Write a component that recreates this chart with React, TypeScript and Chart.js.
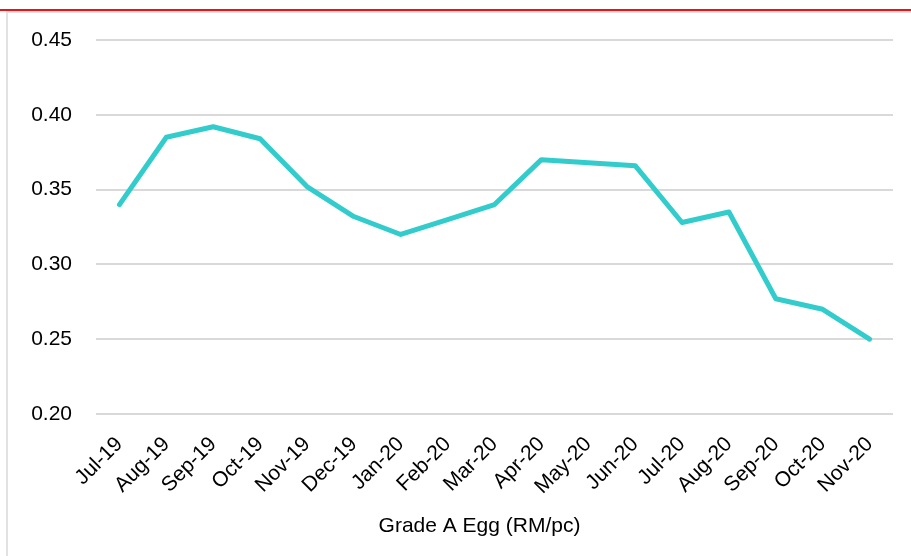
import React, { useEffect, useRef } from "react";
import { Chart, registerables } from "chart.js";

Chart.register(...registerables);

const categories = [
  "Jul-19", "Aug-19", "Sep-19", "Oct-19", "Nov-19", "Dec-19", "Jan-20", "Feb-20", "Mar-20",
  "Apr-20", "May-20", "Jun-20", "Jul-20", "Aug-20", "Sep-20", "Oct-20", "Nov-20",
];
const eggPrices = [
  0.34, 0.385, 0.392, 0.384, 0.352, 0.332, 0.32, 0.33, 0.34,
  0.37, 0.368, 0.366, 0.328, 0.335, 0.277, 0.27, 0.25,
];
const axisTitle = "Grade A Egg (RM/pc)";
const yMin = 0.2;
const yMax = 0.45;
const yStep = 0.05;

const FONT = "Arial, 'Liberation Sans', sans-serif";

const titlePlugin = {
  id: "bottomTitle",
  afterDraw(chart: any) {
    const { ctx, chartArea, height } = chart;
    ctx.save();
    ctx.font = `21px ${FONT}`;
    ctx.fillStyle = "#000";
    ctx.textAlign = "center";
    ctx.textBaseline = "middle";
    ctx.fillText(axisTitle, (chartArea.left + chartArea.right) / 2 - 15, height - 30);
    ctx.restore();
  },
};

export default function App() {
  const ref = useRef<HTMLCanvasElement | null>(null);

  useEffect(() => {
    if (!ref.current) return;
    const chart = new Chart(ref.current, {
      type: "line",
      data: {
        labels: categories,
        datasets: [
          {
            label: axisTitle,
            data: eggPrices,
            borderColor: "#33CCCC",
            backgroundColor: "#33CCCC",
            borderWidth: 5,
            pointRadius: 0,
            tension: 0,
            borderCapStyle: "round",
            borderJoinStyle: "round",
          },
        ],
      },
      options: {
        animation: false,
        responsive: false,
        layout: { padding: { top: 40, right: 18, left: 0, bottom: 0 } },
        plugins: {
          legend: { display: false },
          tooltip: { enabled: false },
        },
        scales: {
          x: {
            offset: true,
            grid: { display: false, drawTicks: false },
            border: { display: false },
            ticks: {
              color: "#000",
              font: { family: FONT, size: 21 },
              maxRotation: 45,
              minRotation: 45,
              padding: 18,
              autoSkip: false,
            },
            afterFit: (scale: any) => {
              scale.height = 142;
            },
          },
          y: {
            min: yMin,
            max: yMax,
            grid: { color: "#d9d9d9", lineWidth: 2, drawTicks: false },
            border: { display: false },
            ticks: {
              stepSize: yStep,
              color: "#000",
              font: { family: FONT, size: 21 },
              padding: 24,
              callback: (v: any) => Number(v).toFixed(2),
            },
            afterFit: (scale: any) => {
              scale.width = 96;
            },
          },
        },
      },
      plugins: [titlePlugin],
    });
    return () => chart.destroy();
  }, []);

  return (
    <div style={{ position: "fixed", left: 0, top: 0, width: 911, height: 556, background: "#fff", overflow: "hidden" }}>
      <canvas ref={ref} width={911} height={556} style={{ position: "absolute", left: 0, top: 0 }} />
      <div style={{ position: "absolute", left: 0, top: 9, width: 911, height: 2, background: "#e8141a" }} />
      <div style={{ position: "absolute", left: 7, top: 11, width: 904, height: 2, background: "#e2e2e2" }} />
      <div style={{ position: "absolute", left: 6, top: 11, width: 2, height: 545, background: "#e2e2e2" }} />
    </div>
  );
}
